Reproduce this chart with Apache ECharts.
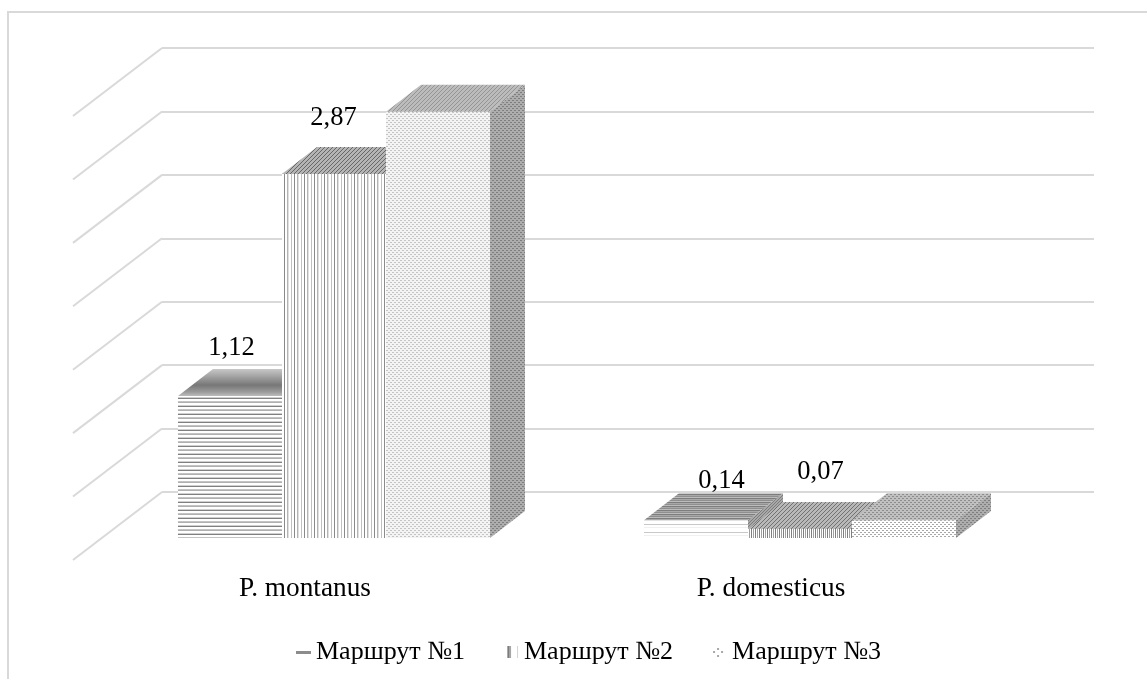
<!DOCTYPE html>
<html>
<head>
<meta charset="utf-8">
<style>html,body{margin:0;padding:0;background:#fff}#c{width:1147px;height:679px}</style>
<script src="https://cdn.jsdelivr.net/npm/echarts@6/dist/echarts.min.js"></script>
</head>
<body>
<div id="c"></div>
<script>
// ---- data ----
const categories = ['P. montanus', 'P. domesticus'];
const seriesNames = ['Маршрут №1', 'Маршрут №2', 'Маршрут №3'];
const route1 = [1.12, 0.14];
const route2 = [2.87, 0.07];
const route3 = [3.36, 0.14];
const labels1 = ['1,12', '0,14'];
const labels2 = ['2,87', '0,07'];
const labels3 = ['', ''];
const valueTicks = [0, 0.5, 1, 1.5, 2, 2.5, 3, 3.5];

// ---- layout of the pseudo-3D box (pixels) ----
const FONT = '"Liberation Serif", "Times New Roman", serif';
const WALL = { dx: -89, dy: 68 };      // back wall -> front edge of the floor
const FRONT = { dx: -61, dy: 46 };     // back-wall band centre -> front face of the bar cluster
const DEPTH = { dx: 35, dy: -27 };     // bar depth
const BAR_FRAC = 0.2232;               // bar width as share of the category band
const LABEL_NUDGE = [                  // [dx, dy] from the centre of the bar's top face
  [[-16, -21], [8, -12]],
  [[-18, -29], [3, -30]],
  [[0, 0], [0, 0]]
];

// ---- fill patterns ----
function canvasOf(w, h, draw) {
  const c = document.createElement('canvas');
  c.width = w; c.height = h;
  draw(c.getContext('2d'));
  return c;
}
function rows(colors) {
  return { image: canvasOf(4, colors.length, g => colors.forEach((col, i) => { g.fillStyle = col; g.fillRect(0, i, 4, 1); })), repeat: 'repeat' };
}
function cols(colors) {
  return { image: canvasOf(colors.length, 4, g => colors.forEach((col, i) => { g.fillStyle = col; g.fillRect(i, 0, 1, 4); })), repeat: 'repeat' };
}
function dots(bg, fg, n) {
  return { image: canvasOf(n, n, g => {
    g.fillStyle = bg; g.fillRect(0, 0, n, n);
    g.fillStyle = fg;
    g.fillRect(0, 0, 2, 1); g.fillRect(n / 2, n / 2, 2, 1);
  }), repeat: 'repeat' };
}
function diag(a, b, n) {
  return { image: canvasOf(n, n, g => {
    g.fillStyle = a; g.fillRect(0, 0, n, n);
    g.fillStyle = b;
    for (let i = 0; i < n; i++) g.fillRect((n - 1 - i), i, 1, 1);
  }), repeat: 'repeat' };
}
const bandTop = {
  type: 'linear', x: 0, y: 0, x2: 0, y2: 1,
  colorStops: [
    { offset: 0, color: '#c8c8c8' }, { offset: 0.3, color: '#a0a0a0' },
    { offset: 0.6, color: '#777777' }, { offset: 0.85, color: '#9a9a9a' }, { offset: 1, color: '#bbbbbb' }
  ]
};
const fills = [
  {
    front: [rows(['#ffffff', '#c4c4c4', '#b0b0b0', '#ffffff', '#ffffff', '#d0d0d0', '#808080', '#ffffff']),
            rows(['#ffffff', '#ffffff', '#ffffff', '#ffffff', '#c8c8c8', '#ffffff', '#ffffff', '#f0f0f0'])],
    top: [bandTop, rows(['#8f8f8f', '#bcbcbc', '#7d7d7d', '#a8a8a8'])],
    side: [diag('#a8a8a8', '#7c7c7c', 3), diag('#a8a8a8', '#7c7c7c', 3)]
  },
  {
    front: [cols(['#ffffff', '#c0c0c0', '#ffffff', '#ffffff', '#8a8a8a', '#ffffff', '#ffffff', '#b4b4b4', '#e0e0e0', '#ffffff']),
            cols(['#ffffff', '#a0a0a0', '#ffffff', '#7f7f7f'])],
    top: [diag('#b4b4b4', '#686868', 4), diag('#b8b8b8', '#727272', 4)],
    side: [diag('#a8a8a8', '#7c7c7c', 3), diag('#a8a8a8', '#7c7c7c', 3)]
  },
  {
    front: [dots('#f4f4f4', '#c4c4c4', 4), dots('#ffffff', '#a8a8a8', 4)],
    top: [diag('#bcbcbc', '#949494', 4), dots('#c0c0c0', '#8c8c8c', 4)],
    side: [dots('#adadad', '#7e7e7e', 4), dots('#adadad', '#7e7e7e', 4)]
  }
];

// ---- legend icons ----
const legendIcons = [
  canvasOf(15, 12, g => { g.fillStyle = '#8c8c8c'; g.fillRect(0, 5, 15, 3); }),
  canvasOf(15, 12, g => {
    g.fillStyle = '#a6a6a6'; g.fillRect(3, 0, 4, 12);
    g.fillStyle = '#7a7a7a'; g.fillRect(4, 0, 1, 12);
    g.fillStyle = '#d4d4d4'; g.fillRect(13, 0, 1, 12);
  }),
  canvasOf(15, 12, g => {
    g.fillStyle = '#a8a8a8';
    [[5, 2], [1, 5], [9, 5], [5, 9]].forEach(p => g.fillRect(p[0], p[1], 2, 2));
  })
].map(c => 'image://' + c.toDataURL());

// ---- render functions ----
function wallItem(params, api) {
  const p = api.coord([0, api.value(0)]);
  const band = api.size([1, 0])[0];
  const left = p[0] - band / 2;
  return {
    type: 'line',
    shape: { x1: left, y1: p[1], x2: left + WALL.dx, y2: p[1] + WALL.dy },
    style: { stroke: '#d9d9d9', lineWidth: 2 },
    silent: true
  };
}
function barRenderer(s, labels) {
  return function (params, api) {
    const cat = api.value(0);
    const v = api.value(1);
    const base = api.coord([cat, 0]);
    const top = api.coord([cat, v]);
    const w = api.size([1, 0])[0] * BAR_FRAC;
    const x0 = base[0] + FRONT.dx + (s - 1.5) * w;
    const x1 = x0 + w;
    const yb = base[1] + FRONT.dy;
    const yt = top[1] + FRONT.dy;
    const f = fills[s];
    const poly = (pts, fill) => ({ type: 'polygon', shape: { points: pts }, style: { fill: fill } });
    const children = [
      poly([[x0, yb], [x1, yb], [x1, yt], [x0, yt]], f.front[cat]),
      poly([[x0, yt], [x1, yt], [x1 + DEPTH.dx, yt + DEPTH.dy], [x0 + DEPTH.dx, yt + DEPTH.dy]], f.top[cat]),
      poly([[x1, yb], [x1 + DEPTH.dx, yb + DEPTH.dy], [x1 + DEPTH.dx, yt + DEPTH.dy], [x1, yt]], f.side[cat])
    ];
    if (labels[cat]) {
      const n = LABEL_NUDGE[s][cat];
      children.push({
        type: 'text',
        z2: 50,
        style: {
          x: (x0 + x1) / 2 + n[0] + DEPTH.dx / 2,
          y: yt + DEPTH.dy + n[1],
          text: labels[cat],
          align: 'center',
          verticalAlign: 'middle',
          fill: '#000',
          font: '26.5px ' + FONT
        }
      });
    }
    return { type: 'group', children: children };
  };
}
function barSeries(i, values, labels) {
  return {
    name: seriesNames[i],
    type: 'custom',
    xAxisIndex: 0, yAxisIndex: 0,
    clip: false,
    z: 5 + i,
    itemStyle: { color: '#999' },
    encode: { x: 0, y: 1 },
    data: categories.map((c, k) => [c, values[k]]),
    renderItem: barRenderer(i, labels),
    animation: false
  };
}

const chart = echarts.init(document.getElementById('c'), null, { renderer: 'canvas' });
chart.setOption({
  animation: false,
  backgroundColor: '#ffffff',
  graphic: [{
    type: 'polyline',
    silent: true,
    shape: { points: [[8, 679], [8, 12], [1147, 12]] },
    style: { stroke: '#d9d9d9', lineWidth: 2, fill: 'none' }
  }],
  grid: [
    { left: 162, top: 48, width: 932, height: 444 },
    { left: 72, top: 115, width: 932, height: 444 }
  ],
  xAxis: [
    { type: 'category', gridIndex: 0, data: categories, show: false },
    {
      type: 'category', gridIndex: 1, data: categories,
      axisLine: { show: false }, axisTick: { show: false },
      axisLabel: { fontFamily: FONT, fontSize: 27.3, color: '#000', margin: 16 }
    }
  ],
  yAxis: [
    {
      type: 'value', gridIndex: 0, min: 0, max: 3.5, interval: 0.5,
      axisLine: { show: false }, axisTick: { show: false }, axisLabel: { show: false },
      splitLine: { show: true, lineStyle: { color: '#d9d9d9', width: 2 } }
    },
    { type: 'value', gridIndex: 1, min: 0, max: 3.5, show: false, splitLine: { show: false } }
  ],
  legend: {
    left: 291, top: 634,
    itemWidth: 15, itemHeight: 12, itemGap: 39,
    textStyle: { fontFamily: FONT, fontSize: 26, color: '#000' },
    data: seriesNames.map((n, i) => ({ name: n, icon: legendIcons[i] }))
  },
  series: [
    {
      type: 'custom',
      xAxisIndex: 0, yAxisIndex: 0,
      clip: false, z: 1, silent: true,
      encode: { y: 0 },
      data: valueTicks.map(v => [v]),
      renderItem: wallItem
    },
    barSeries(0, route1, labels1),
    barSeries(1, route2, labels2),
    barSeries(2, route3, labels3)
  ]
});
</script>
</body>
</html>
